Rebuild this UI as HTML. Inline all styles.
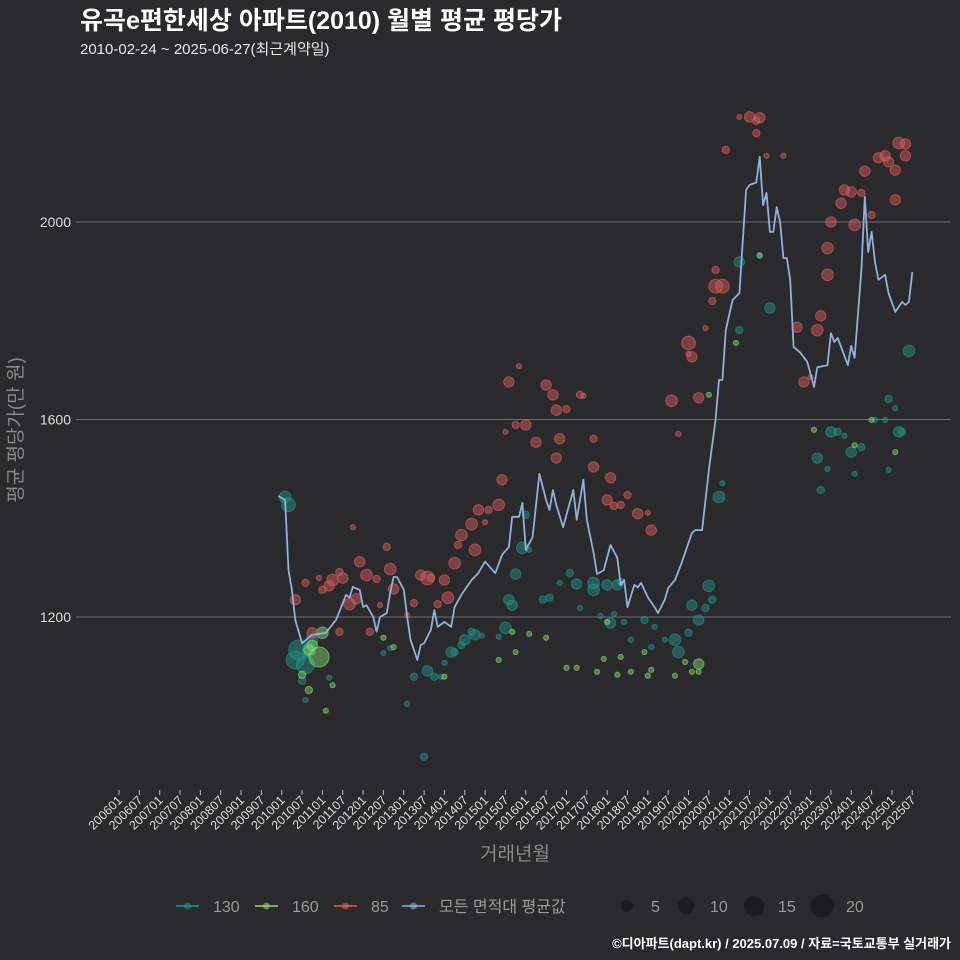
<!DOCTYPE html>
<html><head><meta charset="utf-8">
<style>
html,body{margin:0;padding:0;background:#2a2a2c;}
#wrap{position:relative;width:960px;height:960px;background:#2a2a2c;font-family:"Liberation Sans","Noto Sans CJK KR",sans-serif;overflow:hidden}
svg{position:absolute;left:0;top:0}
</style></head>
<body>
<div id="wrap">
<svg id="chart" width="960" height="960"></svg>
</div>
<script>
// months counted from 2006-01 (index 0)
const yTicks = [1200, 1600, 2000];
const xTickLabels = [];
for (let yr = 2006; yr <= 2025; yr++) { xTickLabels.push(yr + "01"); xTickLabels.push(yr + "07"); }
const lineMonths = [47,49,50,51,52,54,57,61,64,67,68,69,71,72,73,75,76,77,79,80,81,82,84,85,86,88,89,90,92,93,94,96,98,99,101,104,106,108,111,113,115,116,118,119,120,122,124,126,127,128,129,131,134,135,137,138,140,141,143,145,147,148,149,150,152,153,154,156,158,159,161,162,164,166,167,169,170,172,174,176,177,178,179,181,183,185,186,188,189,190,191,192,193,194,195,196,197,198,199,201,203,205,206,209,210,211,212,213,215,216,217,219,220,221,222,223,224,226,227,229,231,232,233,234];
const lineValues = [1445,1437,1295,1255,1194,1147,1164,1168,1194,1245,1239,1261,1255,1220,1224,1200,1170,1200,1208,1249,1281,1281,1255,1200,1154,1113,1143,1147,1174,1214,1180,1190,1180,1220,1245,1275,1289,1312,1289,1326,1342,1403,1403,1431,1336,1362,1490,1437,1417,1457,1427,1382,1457,1397,1478,1397,1330,1287,1295,1346,1320,1265,1275,1220,1265,1260,1269,1240,1220,1208,1235,1259,1275,1310,1330,1370,1376,1376,1498,1600,1680,1680,1781,1842,1856,2065,2075,2080,2132,2034,2059,1980,1980,2030,2000,1927,1927,1883,1747,1735,1717,1666,1706,1710,1775,1757,1765,1747,1710,1749,1725,1903,2051,1939,1980,1919,1883,1893,1856,1818,1838,1832,1838,1899];

const redMonths = [52,55,57,59,60,62,63,65,66,65,69,68,70,71,73,74,76,77,79,80,81,85,87,89,91,92,94,96,97,99,100,101,104,105,106,108,109,112,113,114,115,117,120,118,123,126,128,129,130,129,132,136,137,140,140,144,145,146,148,150,153,156,157,163,165,168,168,169,171,173,175,176,176,178,179,183,186,188,188,189,191,196,200,202,204,206,207,209,209,210,213,214,216,217,219,220,222,224,226,227,229,230,232,232,229];
const redValues = [1235,1269,1168,1279,1255,1263,1275,1291,1279,1170,1382,1226,1237,1312,1285,1170,1277,1224,1342,1297,1257,1204,1228,1285,1279,1279,1226,1275,1239,1309,1346,1366,1388,1336,1417,1392,1417,1427,1478,1575,1676,1589,1589,1708,1554,1670,1650,1619,1561,1522,1621,1650,1648,1504,1561,1437,1482,1425,1427,1447,1409,1411,1376,1638,1571,1733,1755,1727,1644,1785,1840,1903,1870,1870,2146,2213,2213,2205,2180,2211,2134,2134,1787,1676,1686,1781,1810,1893,1947,2000,2038,2065,2061,1994,2059,2103,2014,2130,2134,2122,2105,2160,2134,2158,2045];
const redCounts = [4,2,4,1,2,4,5,2,4,2,1,5,4,4,5,2,2,1,2,5,4,1,2,4,7,2,2,4,5,5,2,5,5,5,4,1,2,5,4,1,4,2,4,1,4,4,4,4,4,4,2,2,1,4,2,4,4,2,2,2,4,1,4,5,1,1,7,4,4,1,2,2,7,7,2,1,4,2,2,4,1,1,4,4,1,5,4,5,5,4,4,4,4,5,2,4,2,4,4,4,4,5,4,4,4];

const tealMonths = [49,50,52,53,55,56,57,54,62,55,80,78,85,87,90,91,93,95,96,98,99,101,102,104,105,107,112,114,115,116,117,119,120,121,125,127,130,133,135,136,140,140,142,144,145,146,147,148,149,151,155,157,158,161,164,165,168,169,171,173,174,175,177,178,183,183,189,192,206,209,210,212,214,216,217,219,223,226,227,229,230,231,233,227,207];
const tealValues = [1443,1427,1113,1133,1103,1133,1154,1071,1077,1032,1137,1127,1024,1079,917,1091,1079,1079,1107,1129,1129,1143,1154,1170,1164,1162,1160,1178,1235,1224,1287,1340,1407,1336,1235,1239,1269,1289,1267,1218,1269,1255,1202,1265,1188,1206,1265,1271,1190,1154,1194,1139,1180,1154,1154,1129,1168,1224,1194,1218,1263,1235,1443,1471,1781,1919,1931,1826,1522,1500,1575,1575,1567,1534,1490,1544,1599,1599,1642,1623,1575,1575,1739,1498,1457];
const tealCounts = [5,7,12,15,12,7,5,2,1,1,1,1,1,2,2,4,2,1,1,4,2,2,4,2,4,1,1,5,4,4,4,5,2,1,2,2,1,2,4,1,5,5,1,4,4,1,4,2,1,1,2,1,1,1,5,5,2,4,4,2,5,2,5,1,2,4,1,4,4,1,4,2,1,4,1,2,1,1,2,1,4,2,5,1,2];

const greenMonths = [56,57,59,60,54,56,61,63,81,78,96,112,116,117,121,126,132,135,141,143,144,147,148,151,155,156,157,164,167,169,171,171,174,182,189,205,217,229,222];
const greenValues = [1133,1143,1119,1168,1083,1052,1010,1062,1139,1158,1079,1113,1170,1129,1166,1158,1097,1097,1089,1115,1190,1083,1119,1089,1129,1081,1093,1081,1109,1089,1105,1089,1650,1755,1933,1579,1548,1534,1599];
const greenCounts = [4,4,15,5,2,2,1,1,1,1,1,1,1,1,1,1,1,1,1,1,1,1,1,1,1,1,1,1,1,1,4,1,1,1,1,1,1,1,1];

const sizeLegend = [5, 10, 15, 20];

const NS = "http://www.w3.org/2000/svg";
const svg = document.getElementById("chart");
function xScale(m) { return 119 + m * 3.39; }
function yScale(v) { return 222 + (2000 - v) * 0.49375; }
function rScale(n) { return 2.6 * Math.sqrt(n); }
function mk(tag, attrs, parent) {
  const e = document.createElementNS(NS, tag);
  for (const k in attrs) e.setAttribute(k, attrs[k]);
  (parent || svg).appendChild(e);
  return e;
}

let t = mk("text", {x: 80, y: 29, fill: "#ffffff", "font-size": 25, "font-weight": "bold"});


t.textContent = "유곡e편한세상 아파트(2010) 월별 평균 평당가";
t = mk("text", {x: 80, y: 54, fill: "#e8e8e8", "font-size": 15});


t.textContent = "2010-02-24 ~ 2025-06-27(최근계약일)";

yTicks.forEach(v => {
  const g = mk("line", {x1: 76, x2: 951, y1: yScale(v), y2: yScale(v), stroke: "#6e6e6e", "stroke-width": 1});
  
  
  const l = mk("text", {x: 71, y: yScale(v) + 5, fill: "#dddddd", "font-size": 14, "text-anchor": "end"});
  
  
  l.textContent = v;
});
t = mk("text", {x: 0, y: 0, fill: "#8a8a8a", "font-size": 19, "text-anchor": "middle", transform: "translate(22,430) rotate(-90)"});


t.textContent = "평균 평당가(만 원)";

xTickLabels.forEach((lab, i) => {
  const x = xScale(i * 6);
  const tk = mk("line", {x1: x, x2: x, y1: 790, y2: 795, stroke: "#bbbbbb", "stroke-width": 1});
  
  
  const l = mk("text", {x: 0, y: 0, fill: "#dddddd", "font-size": 12.5, "text-anchor": "end", transform: "translate(" + (x + 4) + ",801) rotate(-45)"});
  
  
  l.textContent = lab;
});
t = mk("text", {x: 515, y: 860, fill: "#8a8a8a", "font-size": 19, "text-anchor": "middle"});


t.textContent = "거래년월";

function drawPoints(ms, vs, ns, color, name) {
  ms.forEach((m, i) => {
    const c = mk("circle", {cx: xScale(m), cy: yScale(vs[i]), r: rScale(ns[i]), fill: color, "fill-opacity": 0.45, stroke: color, "stroke-opacity": 0.6, "stroke-width": 1});
    
    
  });
}
drawPoints(tealMonths, tealValues, tealCounts, "#22968c", "point-130");
drawPoints(greenMonths, greenValues, greenCounts, "#86e06e", "point-160");
drawPoints(redMonths, redValues, redCounts, "#e35d5d", "point-85");

const pts = lineMonths.map((m, i) => xScale(m).toFixed(1) + "," + yScale(lineValues[i]).toFixed(1)).join(" ");
const pl = mk("polyline", {points: pts, fill: "none", stroke: "#8fb1dc", "stroke-width": 1.8, "stroke-linejoin": "round"});



const legItems = [["130", "#22968c", 176], ["160", "#86e06e", 255], ["85", "#e35d5d", 334], ["모든 면적대 평균값", "#8fb1dc", 402]];
legItems.forEach(it => {
  const g = mk("g", {});
  
  
  mk("line", {x1: it[2], x2: it[2] + 23, y1: 906, y2: 906, stroke: it[1], "stroke-width": 1.5}, g);
  mk("circle", {cx: it[2] + 11.5, cy: 906, r: 3.5, fill: it[1], "fill-opacity": 0.55}, g);
  const l = mk("text", {x: it[2] + 37, y: 912, fill: "#9a9a9a", "font-size": 16}, g);
  l.textContent = it[0];
});
const sizeX = [627, 686, 754, 822];
sizeLegend.forEach((n, i) => {
  const g = mk("g", {});
  
  
  mk("circle", {cx: sizeX[i], cy: 906, r: rScale(n), fill: "#1c1c1e"}, g);
  const l = mk("text", {x: sizeX[i] + 24, y: 912, fill: "#9a9a9a", "font-size": 16}, g);
  l.textContent = n;
});

t = mk("text", {x: 951, y: 948, fill: "#ffffff", "font-size": 13, "font-weight": "bold", "text-anchor": "end"});


t.textContent = "©디아파트(dapt.kr) / 2025.07.09 / 자료=국토교통부 실거래가";
</script>
</body></html>
